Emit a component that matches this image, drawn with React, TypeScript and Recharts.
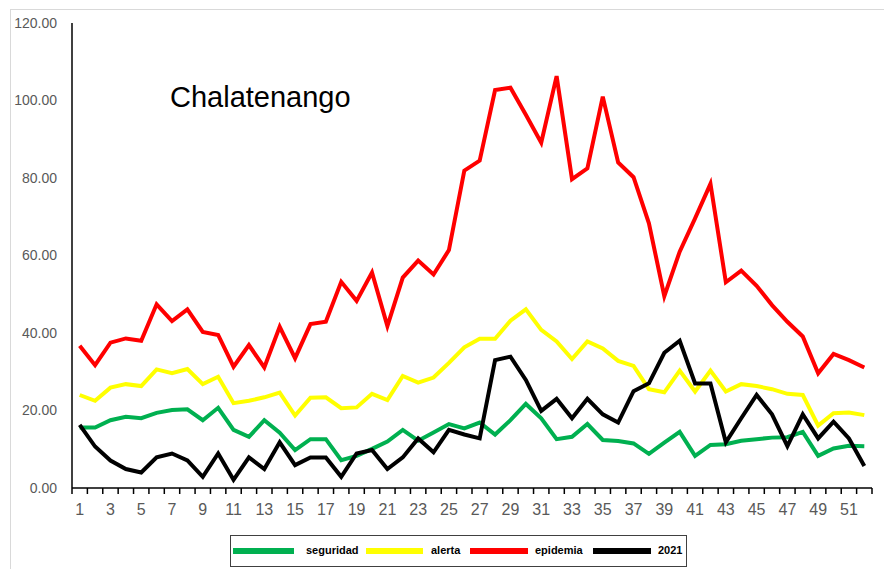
import React from "react";
import { LineChart, Line, XAxis, YAxis } from "recharts";

const weeks: number[] = Array.from({ length: 52 }, (_, i) => i + 1);

const seguridad: number[] = [
  15.6, 15.6, 17.5, 18.4, 18.0, 19.4, 20.1, 20.3, 17.5, 20.7,
  15.0, 13.2, 17.5, 14.3, 9.8, 12.6, 12.6, 7.2, 8.3, 10.1,
  12.0, 15.0, 12.2, 14.3, 16.5, 15.4, 16.9, 13.8, 17.5, 21.7,
  18.0, 12.6, 13.2, 16.5, 12.4, 12.1, 11.5, 8.8, 11.7, 14.5,
  8.3, 11.1, 11.3, 12.2, 12.6, 13.0, 13.1, 14.5, 8.3, 10.2,
  10.9, 10.8,
];

const alerta: number[] = [
  24.0, 22.5, 25.9, 26.8, 26.3, 30.6, 29.6, 30.7, 26.8, 28.7,
  21.9, 22.5, 23.4, 24.6, 18.7, 23.3, 23.4, 20.6, 20.8, 24.3,
  22.7, 28.9, 27.2, 28.5, 32.3, 36.3, 38.5, 38.5, 43.2, 46.1,
  40.8, 37.8, 33.3, 37.8, 36.0, 32.8, 31.5, 25.5, 24.7, 30.3,
  24.9, 30.3, 24.9, 26.8, 26.3, 25.5, 24.3, 24.0, 16.1, 19.3,
  19.5, 18.8,
];

const epidemia: number[] = [
  36.7, 31.7, 37.5, 38.6, 38.0, 47.4, 43.1, 46.1, 40.3, 39.5,
  31.3, 36.9, 31.1, 41.6, 33.5, 42.3, 42.9, 53.2, 48.3, 55.6,
  41.8, 54.3, 58.7, 55.1, 61.4, 81.9, 84.5, 102.7, 103.3, 96.3,
  89.1, 106.3, 79.7, 82.5, 101.0, 84.0, 80.2, 68.3, 49.5, 61.0,
  69.6, 78.5, 53.1, 56.1, 52.2, 47.2, 42.9, 39.1, 29.6, 34.6,
  33.0, 31.1,
];

const y2021: number[] = [
  16.3, 10.7, 7.1, 4.9, 4.0, 7.9, 8.9, 7.1, 2.9, 8.9,
  2.1, 7.9, 4.9, 11.8, 5.9, 7.9, 7.9, 2.9, 8.9, 9.8,
  4.9, 7.9, 12.8, 9.2, 15.0, 13.8, 12.8, 33.0, 33.9, 27.9,
  19.9, 23.0, 18.0, 23.0, 19.0, 16.9, 25.0, 27.0, 34.9, 38.0,
  27.0, 27.0, 11.8, 18.0, 24.0, 19.0, 10.8, 19.0, 12.8, 17.1,
  12.8, 5.7,
];

const yTicks: number[] = [0, 20, 40, 60, 80, 100, 120];
const xBoundaryTicks: number[] = Array.from({ length: 53 }, (_, i) => i + 0.5);

const seriesNames = ["seguridad", "alerta", "epidemia", "2021"];
const seriesColors = ["#00b050", "#ffff00", "#ff0000", "#000000"];
const seriesKeys = ["seguridad", "alerta", "epidemia", "y2021"];

const data = weeks.map((w, i) => ({
  week: w,
  seguridad: seguridad[i],
  alerta: alerta[i],
  epidemia: epidemia[i],
  y2021: y2021[i],
}));

const legendLayout = [
  { sw: 2, sww: 61, tx: 75 },
  { sw: 135, sww: 57, tx: 200 },
  { sw: 239, sww: 58, tx: 304 },
  { sw: 362, sww: 58, tx: 427 },
];

const FONT = "'Liberation Sans', Arial, sans-serif";
const CHART_W = 884;
const MARGIN_RIGHT = 12;
const Y_W = 72;
const HALF_BAND = (CHART_W - MARGIN_RIGHT - Y_W) / weeks.length / 2;

const XTick = (props: any) => {
  const { x, y, payload } = props;
  const week = payload.value + 0.5;
  if (week > weeks.length || week % 2 !== 1) return null;
  return (
    <text
      x={x + HALF_BAND}
      y={y + 19}
      textAnchor="middle"
      fill="#595959"
      fontSize={16}
      fontFamily={FONT}
    >
      {String(week)}
    </text>
  );
};

export default function App() {
  return (
    <div
      style={{
        position: "absolute",
        left: 0,
        top: 0,
        width: 884,
        height: 569,
        background: "#fff",
        overflow: "hidden",
        fontFamily: FONT,
      }}
    >
      <div style={{ position: "absolute", left: 10, top: 9, right: 0, height: 0, borderTop: "1px solid #d9d9d9" }} />
      <div style={{ position: "absolute", left: 10, top: 9, bottom: 0, width: 0, borderLeft: "1px solid #d9d9d9" }} />
      <div style={{ position: "absolute", left: 0, top: 0 }}>
        <LineChart
          width={CHART_W}
          height={569}
          data={data}
          margin={{ top: 23, right: MARGIN_RIGHT, bottom: 51, left: 0 }}
        >
          <XAxis
            dataKey="week"
            type="number"
            domain={[0.5, 52.5]}
            ticks={xBoundaryTicks}
            interval={0}
            tick={<XTick />}
            height={30}
            axisLine={{ stroke: "#000", strokeWidth: 1.5 }}
            tickLine={{ stroke: "#000", strokeWidth: 1.5 }}
            tickSize={6}
            allowDataOverflow
          />
          <YAxis
            domain={[0, 120]}
            ticks={yTicks}
            width={Y_W}
            axisLine={{ stroke: "#000", strokeWidth: 1.5 }}
            tickLine={false}
            tickSize={6}
            tickMargin={9}
            tickFormatter={(v: number) => v.toFixed(2)}
            tick={{ fill: "#595959", fontSize: 14, fontFamily: FONT }}
          />
          {seriesKeys.map((k, i) => (
            <Line
              key={k}
              dataKey={k}
              type="linear"
              stroke={seriesColors[i]}
              strokeWidth={4}
              dot={false}
              activeDot={false}
              isAnimationActive={false}
              strokeLinejoin="miter"
            />
          ))}
          <text x={170} y={107} fontSize={29} fill="#000" fontFamily={FONT}>
            Chalatenango
          </text>
        </LineChart>
      </div>
      <div
        style={{
          position: "absolute",
          left: 230,
          top: 535,
          width: 457,
          height: 32,
          boxSizing: "border-box",
          border: "1px solid #404040",
          fontSize: 11,
          fontWeight: "bold",
          color: "#000",
        }}
      >
        {seriesNames.map((n, i) => (
          <React.Fragment key={n}>
            <div
              style={{
                position: "absolute",
                left: legendLayout[i].sw,
                top: 12,
                width: legendLayout[i].sww,
                height: 6,
                background: seriesColors[i],
              }}
            />
            <span style={{ position: "absolute", left: legendLayout[i].tx, top: 8, lineHeight: "13px" }}>{n}</span>
          </React.Fragment>
        ))}
      </div>
    </div>
  );
}
